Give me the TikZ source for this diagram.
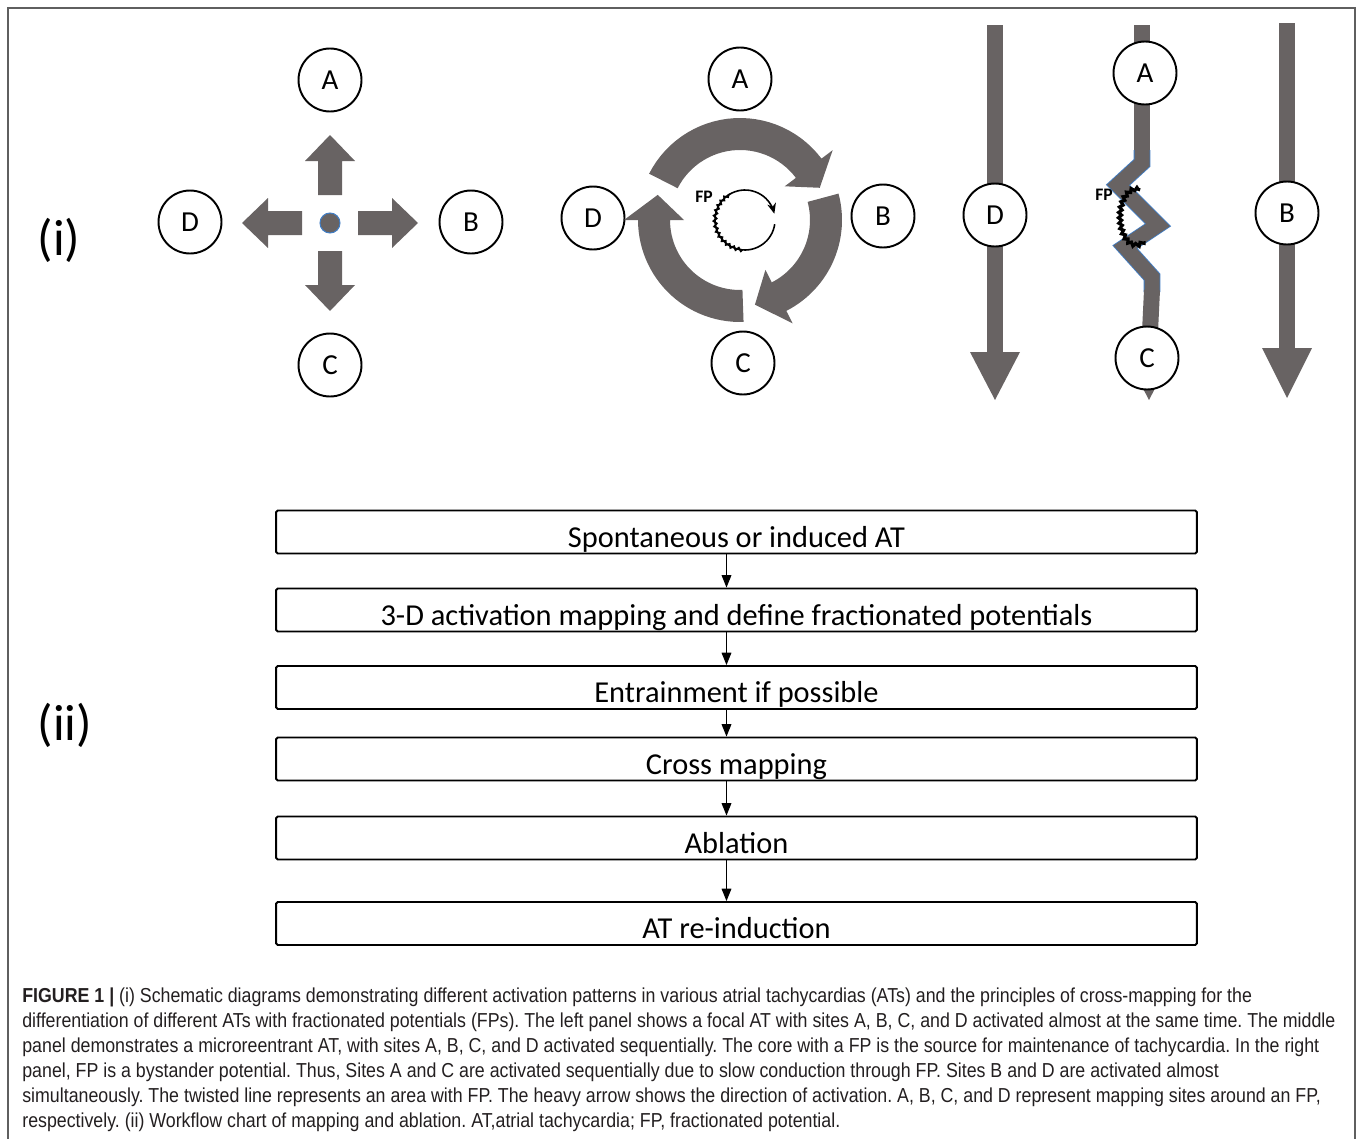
\documentclass[tikz,border=0pt]{standalone}
\usepackage{fontspec}
\setmainfont{Carlito}
\newfontfamily\capfont[FakeStretch=0.88]{Liberation Sans}
\usetikzlibrary{arrows.meta,backgrounds,decorations.pathmorphing}
\definecolor{arrowgray}{RGB}{104,99,99}
\definecolor{framegray}{RGB}{95,95,95}
\definecolor{fpblue}{RGB}{66,126,196}
\definecolor{captext}{RGB}{35,31,32}
\frenchspacing

\begin{document}
\begin{tikzpicture}[x=0.02cm,y=-0.02cm,
  site/.style={draw,circle,line width=1.1pt,fill=white,minimum size=1.26cm,inner sep=0pt,font=\fontsize{16.5}{16.5}\selectfont},
  stepbox/.style={draw,line width=1.1pt,rounded corners=1pt,minimum width=18.42cm,minimum height=0.86cm,text height=0.6cm,text depth=0pt,font=\fontsize{17.3}{17.3}\selectfont},
  flow/.style={line width=0.6pt,-{Triangle[width=5.5pt,length=7pt]}},
  shaft/.style={draw=arrowgray,line width=0.33cm},
  jag/.style={decorate,decoration={zigzag,segment length=3pt,amplitude=0.9pt}},
  capline/.style={anchor=base west,inner sep=0pt,text=captext,font=\capfont\fontsize{11.5}{11.5}\selectfont}]
\useasboundingbox (0,0) rectangle (1357,1139);
\draw[framegray,line width=1.2pt] (8,8) rectangle (1355,1170);

% panel labels
\node (lab1) at (59,240) {\fontsize{29}{29}\selectfont(i)};
\node (lab2) at (65,725) {\fontsize{29}{29}\selectfont(ii)};

% (i) left: focal AT
\node[site] (fA) at (330,80) {A};
\node[site] (fB) at (471,222) {B};
\node[site] (fC) at (330,365) {C};
\node[site] (fD) at (190,222) {D};
\node[circle,fill=arrowgray,draw=fpblue,line width=0.6pt,minimum size=0.4cm,inner sep=0pt] (focus) at (330,223) {};
\foreach \a in {0,90,180,270}
  \fill[arrowgray,shift={(focus)},rotate=\a] (28,-12) -- (62,-12) -- (62,-25) -- (88,0) -- (62,25) -- (62,12) -- (28,12) -- cycle;

% (i) middle: microreentry
\node[site] (mA) at (740,79) {A};
\node[site] (mB) at (883,216) {B};
\node[site] (mC) at (743,363) {C};
\node[site] (mD) at (593,218) {D};
\begin{scope}[shift={(740,220)}]
\foreach \t/\b/\p in {207/323/338,-15/63/80,88/180/197}
  \fill[arrowgray] plot[domain=\t:\b,samples=30] (\x:102) -- (\b:116) -- (\p:86) -- (\b:56) -- plot[domain=\b:\t,samples=30] (\x:70) -- cycle;
\end{scope}
\begin{scope}[shift={(745,220)}]
\draw[line width=0.9pt,-{Stealth[length=6pt,width=5pt]}] plot[domain=8:348,samples=60] (\x:30);
\draw[line width=1pt,jag] plot[domain=95:240,samples=30] (\x:30);
\end{scope}
\node[font=\bfseries\fontsize{10}{10}\selectfont] (fp1) at (704,197) {FP};

% (i) right: bystander
\node[site] (rA) at (1145,73) {A};
\node[site] (rB) at (1287,213) {B};
\node[site] (rC) at (1147,358) {C};
\node[site] (rD) at (995,215) {D};
\begin{scope}[on background layer]
\draw[shaft] (995,25) -- (995,353);
\fill[arrowgray] (970,352) -- (1020,352) -- (995,400) -- cycle;
\draw[shaft] (1287,23) -- (1287,349);
\fill[arrowgray] (1262,348) -- (1312,348) -- (1287,398) -- cycle;
\draw[shaft,line width=0.32cm] (1142,25) -- (1142,152);
\draw[fpblue,line width=0.5pt,double=arrowgray,double distance=0.3cm,line join=miter] (1142,150) -- (1142,163) -- (1118,185) -- (1158,225) -- (1125,247) -- (1152,277) -- (1152,292);
\draw[shaft,line width=0.32cm] (1152,290) -- (1149,353);
\fill[arrowgray] (1124,352) -- (1174,352) -- (1149,400) -- cycle;
\end{scope}
\begin{scope}[shift={(1136,217)}]
\draw[line width=1.8pt,jag] plot[domain=60:285,samples=40] ({16*cos(\x)},{28*sin(\x)});
\end{scope}
\node[font=\bfseries\fontsize{10}{10}\selectfont] (fp2) at (1104,195) {FP};

% (ii) workflow
\foreach \i/\y/\t in {1/532/Spontaneous or induced AT,
                      2/610/3-D activation mapping and define fractionated potentials,
                      3/687.5/Entrainment if possible,
                      4/759/Cross mapping,
                      5/838/Ablation,
                      6/923.5/AT re-induction}
  \node[stepbox] (s\i) at (736.5,\y) {\t};
\coordinate (ax) at (726.5,0);
\foreach \i/\j in {1/2,2/3,3/4,4/5,5/6}
  \draw[flow] (s\i.south -| ax) -- (s\j.north -| ax);

% caption
\node[capline] (c1) at (22,1002) {\textbf{FIGURE 1 |} (i) Schematic diagrams demonstrating different activation patterns in various atrial tachycardias (ATs) and the principles of cross-mapping for the};
\node[capline] (c2) at (22,1027) {differentiation of different ATs with fractionated potentials (FPs). The left panel shows a focal AT with sites A, B, C, and D activated almost at the same time. The middle};
\node[capline] (c3) at (22,1052) {panel demonstrates a microreentrant AT, with sites A, B, C, and D activated sequentially. The core with a FP is the source for maintenance of tachycardia. In the right};
\node[capline] (c4) at (22,1077) {panel, FP is a bystander potential. Thus, Sites A and C are activated sequentially due to slow conduction through FP. Sites B and D are activated almost};
\node[capline] (c5) at (22,1102) {simultaneously. The twisted line represents an area with FP. The heavy arrow shows the direction of activation. A, B, C, and D represent mapping sites around an FP,};
\node[capline] (c6) at (22,1127) {respectively. (ii) Workflow chart of mapping and ablation. AT,atrial tachycardia; FP, fractionated potential.};
\end{tikzpicture}
\end{document}
